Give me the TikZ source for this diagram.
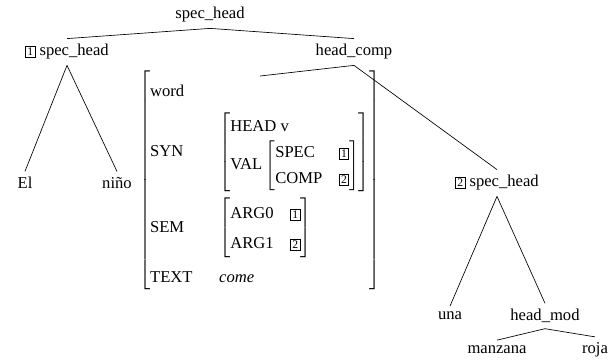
\documentclass[tikz,border=0pt]{standalone}
\usepackage{fontspec}
\setmainfont{Liberation Serif}
\usepackage{tikz}
\newcommand\avmtag[1]{{\fboxsep=0.9pt\fboxrule=0.4pt\fbox{\scriptsize#1}}}

\begin{document}
\begin{tikzpicture}[x=0.6bp,y=0.6bp,every node/.style={font=\fontsize{10}{12}\selectfont}]
\useasboundingbox (0,0) rectangle (615,360);
\node (R) at (210,345) {spec\_head};
\node (L) at (67,308) {\avmtag{1} spec\_head};
\node (H) at (354,308) {head\_comp};
\node (El) at (25,177) {El};
\node (N) at (117,177) {niño};
\node[inner sep=0pt] (W) at (260,180) {$\left[\renewcommand\arraystretch{1.3}\begin{tabular}{@{}l@{\hspace{16bp}}l@{}}
\rule{0pt}{16bp}word & \\[5bp]
SYN & $\left[\begin{tabular}{@{}l@{\hspace{2bp}}l@{}}
  \multicolumn{2}{@{}l@{}}{HEAD v} \\
  VAL & $\left[\begin{tabular}{@{}l@{\hspace{10bp}}l@{}}SPEC & \avmtag{1}\\ COMP & \avmtag{2}\end{tabular}\right]$
  \end{tabular}\right]$ \\ \noalign{\vskip 3.5bp}
SEM & $\left[\renewcommand\arraystretch{1.5}\begin{tabular}{@{}l@{\hspace{10bp}}l@{}}ARG0 & \avmtag{1}\\ ARG1 & \avmtag{2}\end{tabular}\right]$ \\ \noalign{\vskip 4bp}
TEXT & \textit{come}
\end{tabular}\right]$};
\node (S) at (497,177) {\avmtag{2} spec\_head};
\node (U) at (450,44) {una};
\node (M) at (545,44) {head\_mod};
\node (Z) at (497,10) {manzana};
\node (J) at (595,10) {roja};
\draw (R.south) -- (L.north);
\draw (R.south) -- (H.north);
\draw (L.south) -- (El.north);
\draw (L.south) -- (N.north);
\draw (H.south) -- ([yshift=-4bp]W.north);
\draw (H.south) -- (S.north);
\draw (S.south) -- (U.north);
\draw (S.south) -- (M.north);
\draw (M.south) -- (Z.north);
\draw (M.south) -- (J.north);
\end{tikzpicture}
\end{document}
